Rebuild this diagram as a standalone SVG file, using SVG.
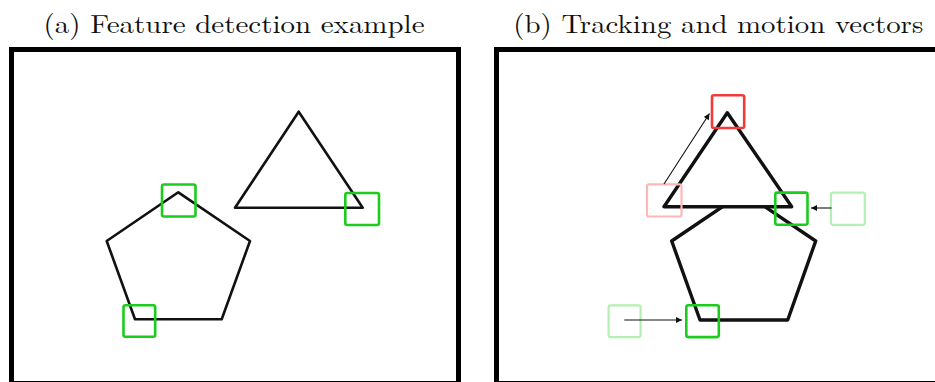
<svg xmlns="http://www.w3.org/2000/svg" width="935" height="382" viewBox="0 0 935 382">
<defs>
<style>
.title{font-family:"Latin Modern Roman","Liberation Serif","DejaVu Serif",serif;font-size:26px;fill:#111;}
.frame{fill:none;stroke:#000;stroke-width:5;}
.shape{fill:#fff;stroke:#111;stroke-width:2.6;stroke-linejoin:round;}
.shapeb{fill:#fff;stroke:#111;stroke-width:3.4;stroke-linejoin:round;}
.g{fill:none;stroke:#1ccc1c;stroke-width:2.6;}
.r{fill:none;stroke:#f23a3a;stroke-width:2.6;}
.gf{fill:none;stroke:#b4efb4;stroke-width:2.2;}
.rf{fill:none;stroke:#ffb6b6;stroke-width:2.2;}
.arr{fill:none;stroke:#111;stroke-width:1.1;}
</style>
<marker id="ah" viewBox="0 0 10 10" refX="10" refY="5" markerWidth="7" markerHeight="6" markerUnits="userSpaceOnUse" orient="auto">
<path d="M0,0 L10,5 L0,10 z" fill="#111"/>
</marker>
</defs>
<rect width="935" height="382" fill="#fff"/>

<g id="panel-a">
<text class="title" x="234" y="33" text-anchor="middle" textLength="381" lengthAdjust="spacingAndGlyphs">(a) Feature detection example</text>
<rect class="frame" x="11.5" y="49.5" width="447" height="334"/>
</g>
<g id="a-triangle"><polygon class="shape" points="298.7,111.7 235,207.7 362.7,207.7"/></g>
<g id="a-pentagon"><polygon class="shape" points="178.3,192.3 250,241 221.7,319.3 135,319.3 106.7,241"/></g>
<g id="a-feature-1"><rect class="g" x="162" y="184.5" width="33.5" height="32" rx="2"/></g>
<g id="a-feature-2"><rect class="g" x="345.3" y="193" width="33.7" height="32" rx="2"/></g>
<g id="a-feature-3"><rect class="g" x="123.5" y="305.3" width="31.7" height="31.4" rx="2"/></g>

<g id="panel-b">
<text class="title" x="718.3" y="33" text-anchor="middle" textLength="410" lengthAdjust="spacingAndGlyphs">(b) Tracking and motion vectors</text>
<rect class="frame" x="496.5" y="49.5" width="460" height="334"/>
</g>
<g id="b-pentagon"><polygon class="shapeb" points="743.7,192.3 815.7,241 787.7,320 700,320 671.7,241"/></g>
<g id="b-triangle"><polygon class="shapeb" points="727.3,112.7 664,206.7 791.7,206.7"/></g>
<g id="b-prev-red"><rect class="rf" x="647" y="184.3" width="34.5" height="32.2" rx="2"/></g>
<g id="b-red"><rect class="r" x="712" y="95.3" width="32.2" height="32.7" rx="2"/></g>
<g id="b-green-right"><rect class="g" x="775.3" y="192.6" width="32.2" height="32.2" rx="2"/></g>
<g id="b-prev-green-right"><rect class="gf" x="831" y="192.6" width="33.8" height="32.2" rx="2"/></g>
<g id="b-prev-green-bottom"><rect class="gf" x="608.6" y="305.3" width="32" height="31.8" rx="2"/></g>
<g id="b-green-bottom"><rect class="g" x="686.3" y="305.3" width="32.5" height="31.8" rx="2"/></g>

<g id="connectors">
<line class="arr" x1="664" y1="184" x2="709.5" y2="113.5" marker-end="url(#ah)"/>
<line class="arr" x1="831.5" y1="208" x2="811" y2="208" marker-end="url(#ah)"/>
<line class="arr" x1="624.3" y1="320" x2="682" y2="320" marker-end="url(#ah)"/>
</g>
</svg>
